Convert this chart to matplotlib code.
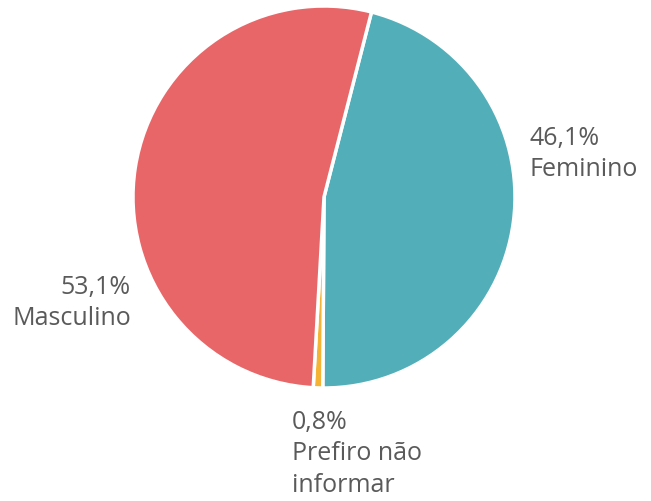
import matplotlib
matplotlib.use("Agg")
import matplotlib.pyplot as plt

categories = ["Feminino", "Prefiro não\ninformar", "Masculino"]
values = [46.1, 0.8, 53.1]
value_labels = ["46,1%", "0,8%", "53,1%"]
colors = ["#52AFBA", "#F5B335", "#E86668"]

plt.rcParams['font.family'] = ['Open Sans', 'DejaVu Sans']

fig = plt.figure(figsize=(6.51, 5.01), dpi=100)
ax = fig.add_axes([0, 0, 1, 1])

cx, cy, r = 324, 304, 191
ax.pie(values, colors=colors, startangle=75.6, counterclock=False,
       center=(cx, cy), radius=r, frame=True,
       wedgeprops=dict(edgecolor='white', linewidth=2.5))
ax.set_xlim(0, 651)
ax.set_ylim(0, 501)
ax.axis('off')

tc = "#5a5a5a"
fs = 18
ls = 1.33
ax.text(529, 501 - 126, f"{value_labels[0]}\n{categories[0]}", ha='left', va='top',
        fontsize=fs, color=tc, linespacing=ls)
ax.text(292, 501 - 410, f"{value_labels[1]}\n{categories[1]}", ha='left', va='top',
        fontsize=fs, color=tc, linespacing=ls)
ax.text(131, 501 - 275, f"{value_labels[2]}\n{categories[2]}", ha='right', va='top',
        fontsize=fs, color=tc, linespacing=ls, multialignment='right')

fig.savefig("out.png", dpi=100)
